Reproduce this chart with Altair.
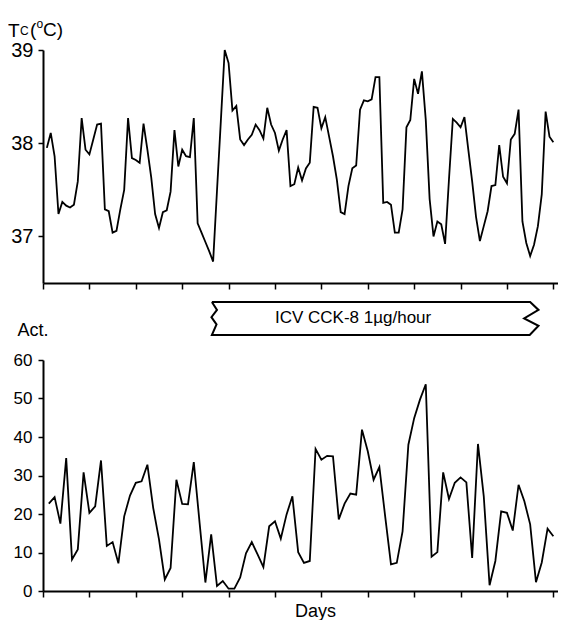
import altair as alt
import pandas as pd

# Core temperature, 2-hour bins (12 per day), days 0-11
tc_values = [
    37.95, 38.11, 37.86, 37.24, 37.37, 37.33, 37.31, 37.34, 37.59, 38.27, 37.93, 37.88,
    38.04, 38.20, 38.21, 37.29, 37.27, 37.04, 37.06, 37.29, 37.50, 38.27, 37.84, 37.82,
    37.79, 38.21, 37.93, 37.63, 37.24, 37.09, 37.26, 37.28, 37.48, 38.14, 37.75, 37.93,
    37.86, 37.85, 38.27, 37.14, 37.04, 36.94, 36.84, 36.73, 37.49, 38.24, 39.00, 38.86,
    38.35, 38.40, 38.04, 37.98, 38.04, 38.09, 38.20, 38.14, 38.05, 38.38, 38.20, 38.11,
    37.92, 38.04, 38.14, 37.54, 37.56, 37.74, 37.60, 37.73, 37.79, 38.39, 38.38, 38.16,
    38.28, 38.07, 37.86, 37.61, 37.26, 37.24, 37.54, 37.73, 37.76, 38.36, 38.46, 38.45,
    38.47, 38.71, 38.71, 37.36, 37.37, 37.34, 37.04, 37.04, 37.29, 38.17, 38.25, 38.69,
    38.53, 38.77, 38.25, 37.40, 37.00, 37.16, 37.13, 36.92, 37.61, 38.26, 38.22, 38.17,
    38.28, 37.93, 37.59, 37.21, 36.95, 37.11, 37.27, 37.54, 37.55, 37.98, 37.64, 37.57,
    38.04, 38.10, 38.36, 37.16, 36.93, 36.79, 36.91, 37.11, 37.45, 38.34, 38.07, 38.01,
]

# Activity, 3-hour bins (8 per day), days 0-11
act_values = [
    22.7, 24.4, 17.5, 34.5, 8.2, 10.8, 30.8, 20.3, 22.0, 33.9, 11.7, 12.7,
    7.2, 19.4, 24.8, 28.1, 28.5, 32.8, 21.6, 13.4, 3.0, 6.0, 28.9, 22.6,
    22.5, 33.5, 17.7, 2.2, 14.7, 1.3, 2.6, 0.6, 0.6, 3.5, 9.8, 12.7,
    9.5, 6.2, 16.8, 18.1, 13.6, 19.9, 24.6, 10.1, 7.3, 7.8, 36.9, 34.1,
    35.1, 35.0, 18.6, 22.7, 25.3, 25.0, 41.9, 36.3, 28.9, 32.2, 19.4, 6.9,
    7.3, 15.5, 38.0, 44.9, 49.7, 53.7, 8.9, 10.1, 30.8, 23.9, 28.1, 29.5,
    28.2, 8.6, 38.2, 24.6, 1.5, 7.8, 20.7, 20.3, 15.7, 27.6, 23.3, 17.3,
    2.3, 7.4, 16.2, 14.2,
]

day_ticks = list(range(0, 12))
tc_ticks = [37, 38, 39]
act_ticks = [0, 10, 20, 30, 40, 50, 60]

infusion_start = 3.64   # day
infusion_end = 10.50    # day
infusion_label = "ICV CCK-8  1\u00b5g/hour"

FONT = "Liberation Sans"
XMAX = 11.1
W = 515

tdf = pd.DataFrame({"day": [(i + 1) / 12 for i in range(len(tc_values))], "tc": tc_values})
adf = pd.DataFrame({"day": [(j + 1) / 8 for j in range(len(act_values))], "act": act_values})

xscale = alt.Scale(domain=[0, XMAX], nice=False, zero=True)

def xaxis(title=None, **kw):
    return alt.Axis(values=day_ticks, labels=False, title=title, ticks=True, tickSize=6,
                    tickWidth=1.5, tickColor="black", domainColor="black", domainWidth=2,
                    grid=False, **kw)

# ---------- top panel ----------
line_top = alt.Chart(tdf).mark_line(color="black", strokeWidth=1.8).encode(
    x=alt.X("day:Q", scale=xscale, axis=xaxis()),
    y=alt.Y("tc:Q", scale=alt.Scale(domain=[36.5, 39], nice=False, zero=False),
            axis=alt.Axis(values=tc_ticks, title=None, tickSize=5, tickWidth=1.5,
                          tickColor="black", domainColor="black", domainWidth=2,
                          labelFontSize=20, labelPadding=5, labelColor="black",
                          labelFont=FONT, grid=False)),
)

def label(txt, x, y, size, baseline="alphabetic"):
    return alt.Chart(alt.Data(values=[{"t": txt}])).mark_text(
        font=FONT, fontSize=size, align="left", baseline=baseline, color="black"
    ).encode(text="t:N", x=alt.value(x), y=alt.value(y))

tc_title = (
    label("T", -35, -28, 19, "top")
    + label("C", -23, -15.5, 12)
    + label("(", -13, -29, 19, "top")
    + label("o", -6.5, -22, 12)
    + label("C)", 0, -29, 19, "top")
)

top = alt.layer(line_top, tc_title).properties(width=W, height=233)

# ---------- banner panel ----------
s, e = infusion_start, infusion_end
outline = [
    (s, 1.0), (e, 1.0), (e + 0.18, 0.76), (e - 0.13, 0.50), (e + 0.18, 0.28), (e - 0.01, 0.0),
    (s, 0.0), (s + 0.10, 0.32), (s - 0.01, 0.54), (s + 0.11, 0.76), (s, 1.0),
]
bdf = pd.DataFrame({"k": list(range(len(outline))),
                    "day": [p[0] for p in outline], "v": [p[1] for p in outline]})
yb = alt.Scale(domain=[-0.758, 1.576], nice=False, zero=False)
banner = alt.Chart(bdf).mark_line(color="black", strokeWidth=2).encode(
    x=alt.X("day:Q", scale=xscale, axis=None),
    y=alt.Y("v:Q", scale=yb, axis=None),
    order="k:Q",
)
btext = alt.Chart(pd.DataFrame({"day": [5.0], "v": [0.5], "t": [infusion_label]})).mark_text(
    font=FONT, fontSize=17, align="left", baseline="middle", color="black"
).encode(x=alt.X("day:Q", scale=xscale, axis=None), y=alt.Y("v:Q", scale=yb, axis=None), text="t:N")
mid = alt.layer(banner, btext).properties(width=W, height=77)

# ---------- bottom panel ----------
line_bot = alt.Chart(adf).mark_line(color="black", strokeWidth=1.8).encode(
    x=alt.X("day:Q", scale=xscale,
            axis=xaxis(title="Days", titleFont=FONT, titleFontSize=18, titleFontWeight="normal",
                       titleColor="black", titleX=272, titleY=25, titleAlign="center",
                       titleBaseline="alphabetic")),
    y=alt.Y("act:Q", scale=alt.Scale(domain=[0, 60], nice=False),
            axis=alt.Axis(values=act_ticks, title="Act.", titleAngle=0, titleAlign="left",
                          titleBaseline="alphabetic", titleX=-26, titleY=-25,
                          titleFont=FONT, titleFontSize=18, titleFontWeight="normal",
                          titleColor="black", tickSize=5, tickWidth=1.5, tickColor="black",
                          domainColor="black", domainWidth=2, labelFontSize=17,
                          labelPadding=6, labelColor="black", labelFont=FONT, grid=False)),
)
bottom = line_bot.properties(width=W, height=231)

chart = alt.vconcat(top, mid, bottom, spacing=0, bounds="flush").properties(
    padding={"left": 0, "top": 10, "right": 0, "bottom": 0}
).configure_view(stroke=None)

chart.save("out.html", embed_options={"renderer": "svg", "actions": False})
